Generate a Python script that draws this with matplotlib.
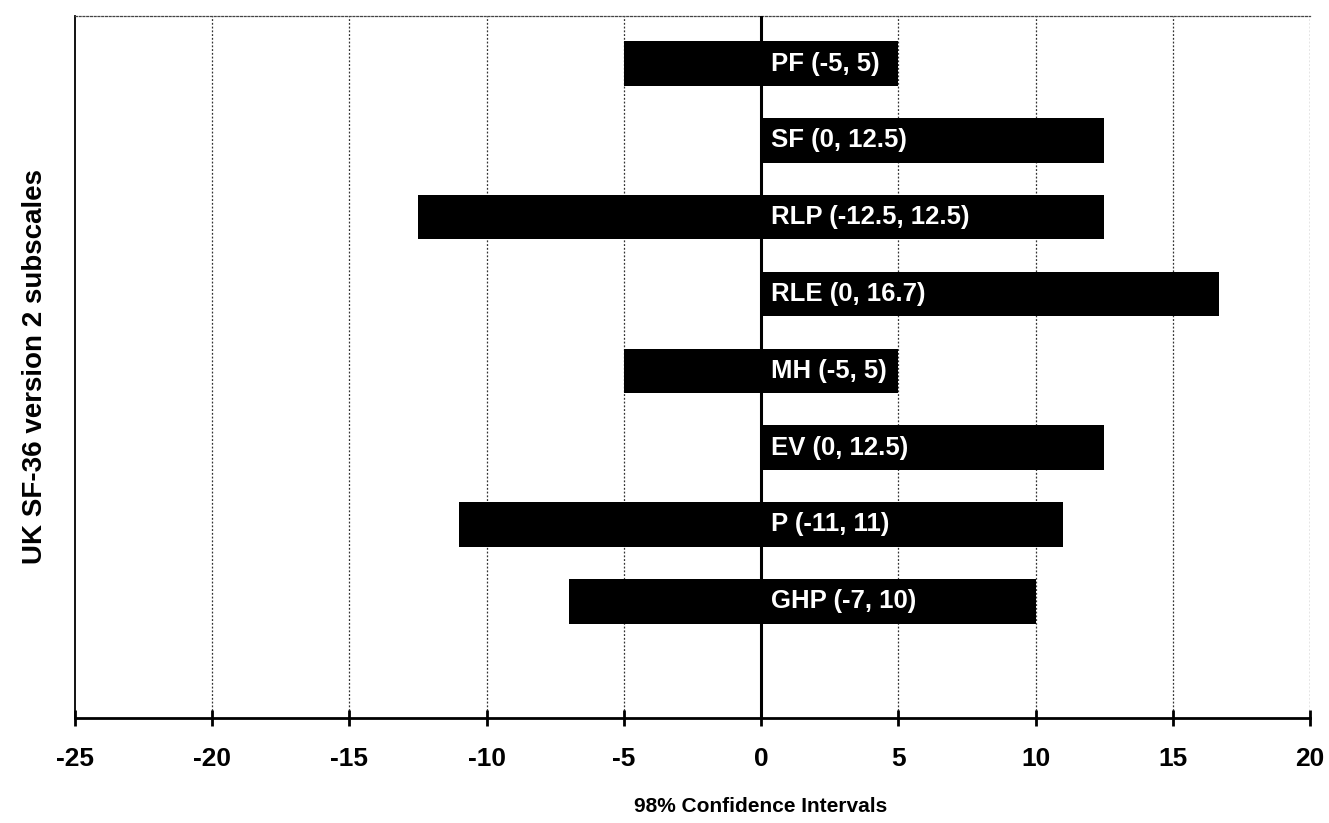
import matplotlib
matplotlib.use("Agg")
import matplotlib.pyplot as plt

# SF-36 v2 subscales, top to bottom, with 98% confidence interval bounds
subscales = ["PF", "SF", "RLP", "RLE", "MH", "EV", "P", "GHP"]
lower = [-5, 0, -12.5, 0, -5, 0, -11, -7]
upper = [5, 12.5, 12.5, 16.7, 5, 12.5, 11, 10]
xticks = [-25, -20, -15, -10, -5, 0, 5, 10, 15, 20]

plt.rcParams["font.family"] = ["Liberation Sans", "DejaVu Sans"]

fig = plt.figure(figsize=(13.29, 8.23), dpi=100)
ax = fig.add_axes([0.0564, 0.1276, 0.9293, 0.853])

n = len(subscales)
ypos = [n - 1 - i for i in range(n)]
widths = [hi - lo for lo, hi in zip(lower, upper)]
ax.barh(ypos, widths, left=lower, height=0.58, color="black", zorder=3)

for y, name, lo, hi in zip(ypos, subscales, lower, upper):
    ax.annotate(f"{name} ({lo:g}, {hi:g})", xy=(0, y), xytext=(7, 0),
                textcoords="offset points", ha="left", va="center",
                color="white", fontsize=18.5, fontweight="bold", zorder=4)

ax.set_xlim(-25, 20)
ax.set_ylim(-1.52, 7.62)
ax.set_xticks(xticks)
ax.set_xticklabels([f"{t:g}" for t in xticks], fontsize=19, fontweight="bold")
ax.set_yticks([])

# vertical dotted grid, solid zero reference line
for t in xticks[1:]:
    if t == 0:
        continue
    ax.axvline(t, color="#333333", linestyle=(0, (1.5, 1.5)), linewidth=0.9, zorder=1)
ax.axvline(0, color="black", linewidth=2.2, zorder=5)

ax.spines["top"].set_linestyle((0, (1.5, 1.5)))
ax.spines["top"].set_color("#444444")
ax.spines["top"].set_linewidth(0.9)
ax.spines["right"].set_visible(False)
ax.spines["left"].set_linewidth(1.3)
ax.spines["bottom"].set_linewidth(2)

ax.tick_params(axis="x", direction="inout", length=12, width=2, pad=15)

ax.set_xlabel("98% Confidence Intervals", fontsize=15, fontweight="bold")
ax.xaxis.set_label_coords(0.555, -0.112)
ax.set_ylabel("UK SF-36 version 2 subscales", fontsize=20, fontweight="bold")
ax.yaxis.set_label_coords(-0.022, 0.5)

fig.savefig("out.png", dpi=100, facecolor="white")
